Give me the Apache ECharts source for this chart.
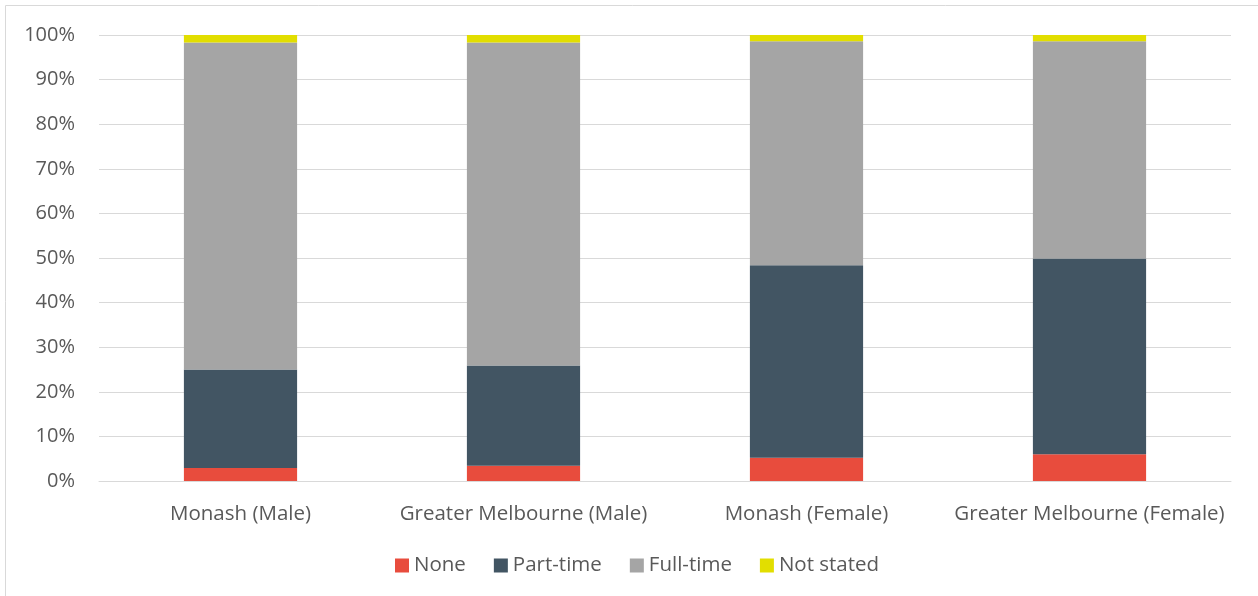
<!DOCTYPE html>
<html>
<head>
<meta charset="utf-8">
<script src="https://cdn.jsdelivr.net/npm/echarts@6/dist/echarts.min.js"></script>
<style>
  html, body { margin: 0; padding: 0; background: #fff; }
  #chart { width: 1258px; height: 596px; }
</style>
</head>
<body>
<div id="chart"></div>
<script>
// Labour force participation shares by area and sex (percent of each group)
const categories = ['Monash (Male)', 'Greater Melbourne (Male)', 'Monash (Female)', 'Greater Melbourne (Female)'];
const noneShare      = [2.9, 3.4, 5.2, 6.0];
const partTimeShare  = [22.1, 22.5, 43.2, 43.9];
const fullTimeShare  = [73.3, 72.4, 50.2, 48.7];
const notStatedShare = [1.7, 1.7, 1.4, 1.4];

const seriesNames  = ['None', 'Part-time', 'Full-time', 'Not stated'];
const seriesValues = [noneShare, partTimeShare, fullTimeShare, notStatedShare];
const seriesColors = ['#E84C3D', '#425563', '#A5A5A5', '#E2DE00'];

const textColor = '#595959';
const fontFamily = '"Open Sans", Lato, sans-serif';

const chart = echarts.init(document.getElementById('chart'));
chart.setOption({
  animation: false,
  textStyle: { fontFamily: fontFamily },
  graphic: [{
    type: 'rect',
    shape: { x: 5.5, y: 5.5, width: 1270, height: 620 },
    style: { fill: 'none', stroke: '#D9D9D9', lineWidth: 1 },
    silent: true
  }],
  grid: { left: 99, right: 27, top: 35, bottom: 115, outerBoundsMode: 'none' },
  legend: {
    bottom: 15,
    left: 390,
    itemWidth: 14,
    itemHeight: 14,
    itemGap: 28,
    icon: 'rect',
    textStyle: { color: textColor, fontSize: 20.5, fontFamily: fontFamily, padding: [0, 0, 0, 0] },
    data: seriesNames
  },
  xAxis: {
    type: 'category',
    data: categories,
    axisLine: { show: true, lineStyle: { color: '#D9D9D9', width: 1 } },
    axisTick: { show: false },
    axisLabel: { color: textColor, fontSize: 20.5, margin: 23, interval: 0 }
  },
  yAxis: {
    type: 'value',
    min: 0,
    max: 100,
    interval: 10,
    axisLine: { show: false },
    axisTick: { show: false },
    splitLine: { lineStyle: { color: '#D9D9D9', width: 1 } },
    axisLabel: { color: textColor, fontSize: 20, margin: 24, formatter: '{value}%' }
  },
  series: seriesNames.map((name, i) => ({
    name: name,
    type: 'bar',
    stack: 'total',
    barWidth: '40%',
    data: seriesValues[i],
    itemStyle: { color: seriesColors[i] }
  }))
});
</script>
</body>
</html>
